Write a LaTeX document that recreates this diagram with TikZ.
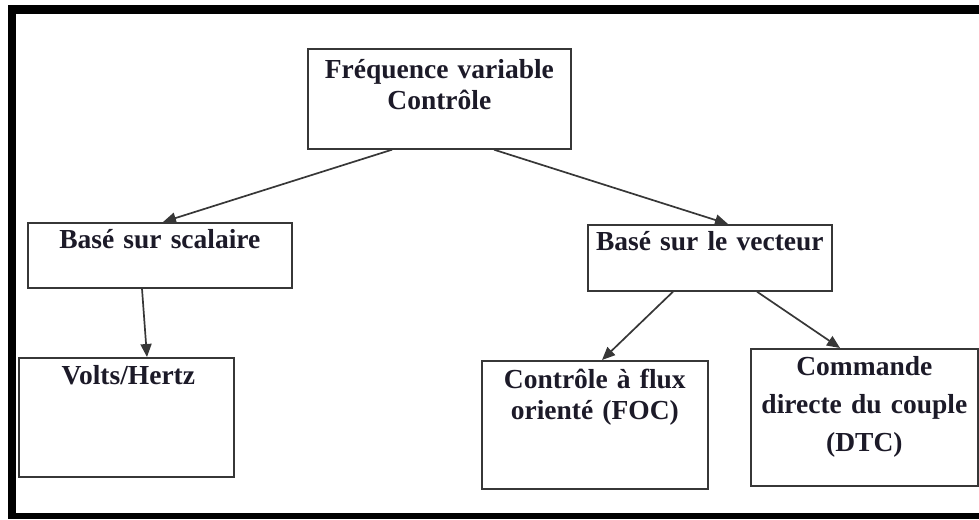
\documentclass[tikz,border=0pt]{standalone}
\usepackage{fontspec}
\setmainfont{Liberation Serif}
\usetikzlibrary{arrows.meta}
\definecolor{ink}{RGB}{28,26,40}
\definecolor{edge}{RGB}{55,55,55}
\tikzset{
  box/.style={draw=edge, line width=1.7pt, fill=white, inner sep=0pt, anchor=north west},
  lbl/.style={text=ink, inner sep=0pt, align=center, text width=#1, anchor=base,
              font=\bfseries\fontsize{27.5}{31}\selectfont},
  lbl/.default=250pt,
  link/.style={draw=edge, line width=1.7pt, -{Triangle[length=13pt,width=11pt]}}
}
\begin{document}
\begin{tikzpicture}[x=1pt,y=-1pt]
  \useasboundingbox (0,0) rectangle (979,519);
  % black frame (left, top and bottom bars)
  \fill[black] (8,5) rectangle (16,519);
  \fill[black] (8,5) rectangle (979,14);
  \fill[black] (8,513) rectangle (979,519);

  % boxes
  \node[box, minimum width=263pt, minimum height=100pt] (top)  at (307,48)  {};
  \node[box, minimum width=264pt, minimum height=65pt]  (scal) at (27,222)  {};
  \node[box, minimum width=244pt, minimum height=66pt]  (vect) at (587,224) {};
  \node[box, minimum width=215pt, minimum height=119pt] (volt) at (18,357)  {};
  \node[box, minimum width=226pt, minimum height=128pt] (foc)  at (481,360) {};
  \node[box, minimum width=227pt, minimum height=137pt] (dtc)  at (750,348) {};

  % labels
  \node[lbl] (ttop)  at ([yshift=-30pt]top.north)  {Fréquence variable\\Contrôle};
  \node[lbl] (tscal) at ([yshift=-26pt]scal.north) {Basé sur scalaire};
  \node[lbl] (tvect) at ([yshift=-26pt]vect.north) {Basé sur le vecteur};
  \node[lbl] (tvolt) at ([yshift=-27pt,xshift=2pt]volt.north) {Volts/Hertz};
  \node[lbl] (tfoc)  at ([yshift=-28pt]foc.north)  {Contrôle à flux\\orienté (FOC)};
  \node[lbl, font=\bfseries\fontsize{27.5}{38}\selectfont] (tdtc) at ([yshift=-27pt]dtc.north)
        {Commande\\directe du couple\\(DTC)};

  % connectors
  \path[link] ([xshift=85pt]top.south west)  -- ([xshift=136pt]scal.north west);
  \path[link] ([xshift=187pt]top.south west) -- ([xshift=141pt]vect.north west);
  \path[link] ([xshift=115pt]scal.south west) -- ([xshift=129pt]volt.north west);
  \path[link] ([xshift=86pt]vect.south west)  -- ([xshift=121pt]foc.north west);
  \path[link] ([xshift=170pt]vect.south west) -- ([xshift=90pt]dtc.north west);
\end{tikzpicture}
\end{document}
